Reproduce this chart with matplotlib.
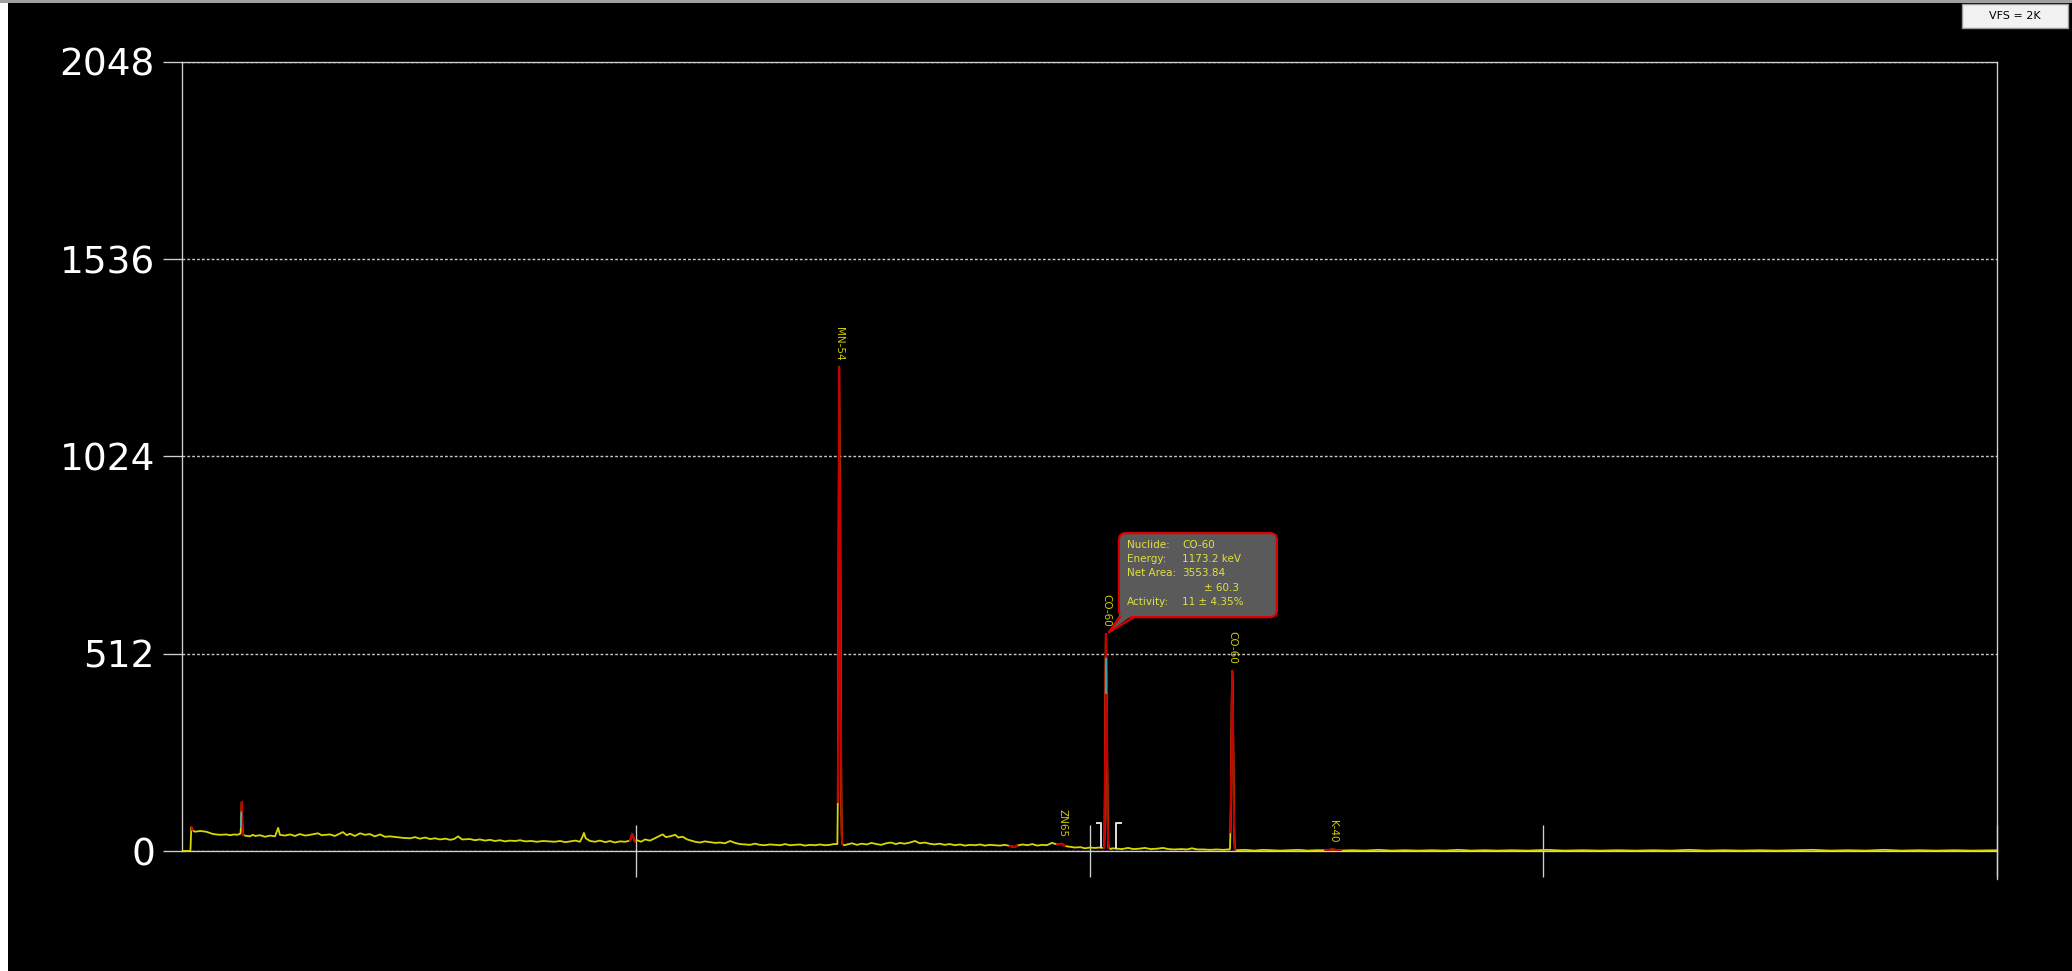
import matplotlib.pyplot as plt
from matplotlib.patches import FancyBboxPatch, Polygon, Rectangle
from matplotlib.transforms import IdentityTransform

# continuum (channel, counts)
bg_ch = [0, 19, 20, 21, 23, 29, 41, 55, 70, 86, 100, 108, 118, 124, 130,
         142, 153, 160, 165, 176, 187, 199, 210, 217, 221,
         232, 244, 255, 266, 278, 289, 307, 315, 334, 345,
         363, 372, 379, 390, 402, 413, 424, 435, 447, 458,
         469, 484, 499, 515, 526, 537, 549, 560, 571, 582,
         595, 605, 614, 623, 632, 650, 661, 672, 684, 695,
         706, 718, 729, 740, 752, 763, 775, 788, 801, 815,
         830, 841, 853, 865, 876, 888, 898, 903, 907, 911,
         921, 932, 943, 955, 966, 977, 988, 1000, 1011, 1016,
         1022, 1027, 1036, 1045, 1056, 1067, 1079, 1085, 1092, 1101,
         1113, 1120, 1130, 1140, 1149, 1158, 1169, 1180, 1192, 1203,
         1214, 1225, 1237, 1248, 1259, 1270, 1282, 1293, 1304, 1315,
         1327, 1338, 1350, 1361, 1372, 1384, 1395, 1406, 1418, 1429,
         1440, 1451, 1462, 1470, 1495, 1501, 1512, 1523, 1534, 1545,
         1556, 1567, 1578, 1589, 1600, 1611, 1620, 1631, 1643, 1654,
         1665, 1676, 1687, 1698, 1710, 1721, 1733, 1744, 1756, 1767,
         1778, 1790, 1801, 1812, 1823, 1835, 1846, 1857, 1868, 1880,
         1884, 1897, 1908, 1919, 1930, 1941, 1952, 1963, 1975, 1986,
         1992, 2003, 2015, 2027, 2038, 2049, 2060, 2072, 2076, 2096,
         2099, 2110, 2121, 2135, 2147, 2160, 2173, 2186, 2200, 2214,
         2226, 2240, 2255, 2268, 2279, 2292, 2305, 2320, 2335, 2350,
         2360, 2381, 2400, 2420, 2440, 2460, 2478, 2500, 2520, 2540,
         2560, 2580, 2597, 2615, 2640, 2670, 2700, 2730, 2760, 2790,
         2820, 2850, 2880, 2910, 2940, 2970, 3000, 3040, 3080, 3120,
         3160, 3200, 3240, 3280, 3320, 3360, 3400, 3440, 3480, 3520,
         3560, 3600, 3640, 3680, 3720, 3760, 3800, 3840, 3880, 3920, 3960, 4000, 4040, 4095]
bg_cnt = [0, 0, 33, 62, 55, 50, 52, 50, 44, 42, 43, 41, 43, 42, 44,
          40, 38, 42, 39, 41, 37, 40, 38, 60, 42,
          40, 43, 39, 44, 40, 42, 46, 41, 43, 39,
          49, 41, 45, 39, 46, 42, 44, 38, 43, 37,
          38, 36, 34, 33, 36, 32, 35, 31, 33, 30,
          32, 29, 31, 38, 30, 31, 28, 30, 27, 29,
          26, 28, 25, 27, 26, 28, 25, 26, 24, 26,
          25, 24, 26, 23, 25, 27, 24, 35, 47, 33,
          26, 24, 27, 23, 26, 22, 25, 24, 27, 44,
          25, 28, 24, 30, 27, 33, 40, 43, 36, 38,
          42, 35, 37, 30, 27, 24, 22, 25, 23, 21,
          22, 20, 26, 21, 18, 17, 16, 19, 16, 15,
          17, 16, 15, 18, 15, 16, 17, 14, 16, 15,
          17, 15, 16, 18, 15, 17, 20, 16, 19, 17,
          21, 18, 16, 20, 22, 18, 21, 19, 22, 26,
          20, 22, 19, 17, 19, 16, 18, 15, 17, 14,
          16, 15, 17, 14, 16, 15, 14, 16, 13, 10,
          14, 17, 15, 18, 14, 16, 15, 21, 17, 19,
          13, 11, 9, 10, 7, 9, 8, 9, 8, 5,
          7, 6, 5, 8, 5, 6, 8, 5, 6, 8,
          5, 4, 5, 4, 7, 4, 4, 3, 4, 3,
          4, 2, 3, 1, 3, 2, 1, 2, 3, 1,
          2, 2, 4, 1, 2, 1, 3, 1, 2, 1,
          2, 1, 3, 1, 2, 1, 2, 1, 3, 1,
          2, 1, 2, 1, 2, 1, 3, 1, 2, 1,
          2, 1, 2, 3, 1, 2, 1, 3, 1, 2, 1, 2, 1, 2]
assert len(bg_ch) == len(bg_cnt)

# peaks: first channel, then counts per channel
small_start, small_cnt = 132, [45, 62, 100, 127, 78, 50, 42]
mn54_start, mn54_cnt = 1479, [18, 127, 350, 860, 1256, 1000, 947, 600, 335, 120, 40, 18]
co60a_start, co60a_cnt = 2080, [8, 12, 45, 200, 430, 563, 500, 400, 220, 90, 25, 8]
co60b_start, co60b_cnt = 2364, [4, 6, 49, 120, 250, 380, 467, 440, 330, 200, 90, 30, 8, 4]

roi_ranges = [(21, 23), (134, 138), (1011, 1022), (1480, 1490), (1868, 1884),
              (1975, 1992), (2080, 2091), (2366, 2377), (2580, 2615)]
cyan_ranges = [(133, 134)]
cyan_marks = [(2084.6, 407, 500)]
roi_marks = [2075, 2108]
roi_mark_h = 73

nuclides = ['MN-54', 'CO-60', 'CO-60', 'ZN65', 'K-40']
nuclide_ch = [1483, 2085, 2370, 1986, 2597]

y_ticks = [0, 512, 1024, 1536, 2048]
x_ticks = [1024, 2048, 3072, 4096]

tip_rows = [('Nuclide:', 'CO-60'), ('Energy:', '1173.2 keV'), ('Net Area:', '3553.84'),
            ('', '± 60.3'), ('Activity:', '11 ± 4.35%')]

spec = dict(zip(bg_ch, bg_cnt))
for start, cnts in [(small_start, small_cnt), (mn54_start, mn54_cnt),
                    (co60a_start, co60a_cnt), (co60b_start, co60b_cnt)]:
    for i, v in enumerate(cnts):
        spec[start + i] = v
ch = sorted(spec)
cnt = [spec[c] for c in ch]

W, H = 2072, 971
fig = plt.figure(figsize=(W / 100, H / 100), dpi=100, facecolor='black')
ax = fig.add_axes([182 / W, 120 / H, 1815 / W, 789 / H], facecolor='black')
ax.set_xlim(0, 4096)
ax.set_ylim(0, 2048)

grey = '#d0d0d0'
yellow = '#d8d800'
red = '#c80000'

ax.plot(ch, cnt, color=yellow, lw=1.3, zorder=3)
for a, b in roi_ranges:
    xs = [c for c in ch if a <= c <= b]
    ax.plot(xs, [spec[c] for c in xs], color=red, lw=1.5, zorder=4)
for a, b in cyan_ranges:
    xs = [c for c in ch if a <= c <= b]
    ax.plot(xs, [spec[c] for c in xs], color='#30b0c0', lw=1.3, zorder=5)
for x, y0, y1 in cyan_marks:
    ax.vlines(x, y0, y1, color='#30b0c0', lw=1.3, zorder=5)

# roi bracket markers
m0, m1 = roi_marks
ax.plot([m0 - 11, m0, m0], [roi_mark_h, roi_mark_h, 11], color='#e0e0e0', lw=1.4, zorder=5)
ax.plot([m1 + 11, m1, m1], [roi_mark_h, roi_mark_h, 7], color='#e0e0e0', lw=1.4, zorder=5)

for name, c in zip(nuclides, nuclide_ch):
    ax.annotate(name, (c, spec[c]), xytext=(0, 5), textcoords='offset points',
                rotation=-90, ha='center', va='bottom', color='#cccc00', fontsize=7.5)

# axes styling
for s in ['left', 'top', 'bottom']:
    ax.spines[s].set_color(grey)
    ax.spines[s].set_linewidth(0.95)
ax.spines['right'].set_visible(False)
ax.axvline(4096, ymin=-28 / 789, ymax=1, color=grey, lw=0.95, clip_on=False)

ax.set_yticks(y_ticks)
ax.set_yticklabels([str(v) for v in y_ticks])
ax.set_xticks(x_ticks)
ax.tick_params(axis='y', length=13.7, width=0.95, color=grey, pad=5.8,
               labelsize=27, labelcolor='white')
ax.tick_params(axis='x', direction='inout', length=38, width=0.95, color=grey,
               labelbottom=False)
ax.yaxis.grid(True, color='#c8c8c8', ls=(0, (2, 1.5)), lw=1.0)

# tooltip bubble next to the 1173 keV peak
px, py = ax.transData.transform((2085, spec[2085]))
ident = IdentityTransform()
box = FancyBboxPatch((px + 13, py + 17), 158, 84, boxstyle='round,pad=0,rounding_size=7',
                     fc='#5a5a5a', ec='#dd0000', lw=1.6, transform=ident, zorder=10)
fig.add_artist(box)
tail = Polygon([(px + 14, py + 20), (px + 28, py + 20), (px + 3, py + 2)], closed=True,
               fc='#5a5a5a', ec='none', transform=ident, zorder=11)
fig.add_artist(tail)
fig.add_artist(plt.Line2D([px + 14, px + 3, px + 28], [py + 17, py + 2, py + 17],
                          color='#dd0000', lw=1.6, transform=ident, zorder=12))
row_y = [89, 75, 61, 46, 32]
for (k, v), dy in zip(tip_rows, row_y):
    fig.text(px + 21, py + dy, k, transform=ident, color='#e0e040', fontsize=7.5,
             va='center', zorder=13)
    fig.text(px + (98 if k == '' else 76), py + dy, v, transform=ident, color='#e0e040',
             fontsize=7.5, va='center', zorder=13)

# window chrome
fig.add_artist(Rectangle((0, 0), 8 / W, 1, transform=fig.transFigure, fc='white', ec='none'))
fig.add_artist(Rectangle((0, 968 / H), 1, 3 / H, transform=fig.transFigure, fc='#a0a0a0', ec='none'))
fig.add_artist(Rectangle((1962 / W, 943 / H), 106 / W, 24 / H, transform=fig.transFigure,
                         fc='#f2f2f2', ec='#9a9a9a', lw=1.0))
fig.text(2015 / W, 955 / H, 'VFS = 2K', color='black', fontsize=8, ha='center', va='center')

fig.savefig('out.png', dpi=100, facecolor='black')
